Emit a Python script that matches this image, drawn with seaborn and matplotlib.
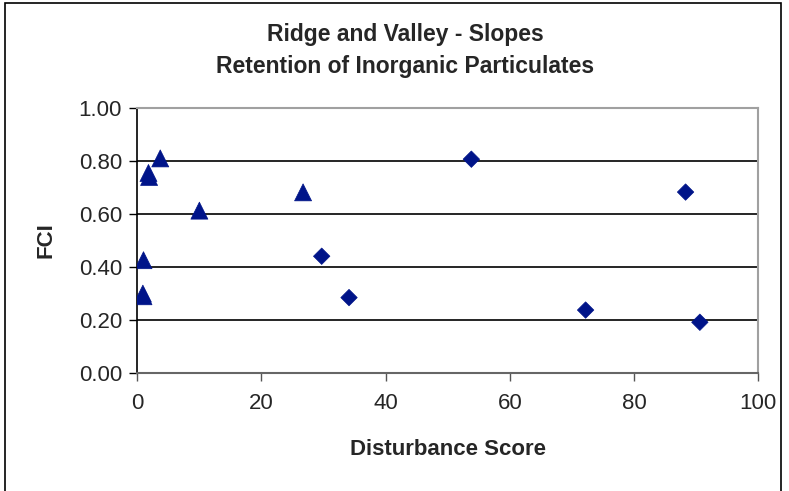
import matplotlib
matplotlib.use("Agg")
import matplotlib.pyplot as plt
import seaborn as sns
import pandas as pd
from matplotlib.patches import Rectangle

# Data
tri_x = [3.7, 1.8, 1.9, 10.0, 26.7, 1.0, 0.9, 1.0]
tri_y = [0.81, 0.755, 0.74, 0.613, 0.682, 0.426, 0.30, 0.29]
dia_x = [29.7, 34.1, 53.8, 88.3, 72.2, 90.6]
dia_y = [0.441, 0.285, 0.807, 0.683, 0.238, 0.192]

title = "Ridge and Valley - Slopes\nRetention of Inorganic Particulates"
xlabel = "Disturbance Score"
ylabel = "FCI"
xticks = [0, 20, 40, 60, 80, 100]
yticks = [0.0, 0.2, 0.4, 0.6, 0.8, 1.0]

df = pd.DataFrame({
    "x": tri_x + dia_x,
    "y": tri_y + dia_y,
    "series": ["tri"] * len(tri_x) + ["dia"] * len(dia_x),
})

sns.set_theme(style="white")
plt.rcParams['font.family'] = ['Liberation Sans', 'DejaVu Sans']

fig = plt.figure(figsize=(7.89, 4.91), dpi=100)
ax = fig.add_axes([0.174, 0.240, 0.787, 0.540])

color = "#001489"
sns.scatterplot(data=df, x="x", y="y", style="series", size="series",
                markers={"tri": "^", "dia": "D"},
                sizes={"tri": 150, "dia": 70},
                color=color, edgecolor=color, linewidth=0.5,
                ax=ax, legend=False, zorder=3)

ax.set_xlim(0, 100)
ax.set_ylim(0, 1.0)
ax.set_xticks(xticks)
ax.set_yticks(yticks)
ax.set_xticklabels([str(t) for t in xticks], fontsize=16)
ax.set_yticklabels([f"{t:.2f}" for t in yticks], fontsize=16)

for yv in yticks[1:-1]:
    ax.axhline(yv, color="black", lw=1.2, zorder=1)

ax.tick_params(axis="both", direction="out", length=6, width=1, color="black",
               pad=5, left=True, bottom=True)
ax.tick_params(axis="x", color="#555555", pad=8)

for side in ["top", "right"]:
    ax.spines[side].set_color("#A0A0A0")
    ax.spines[side].set_linewidth(1.5)
ax.spines["left"].set_color("black")
ax.spines["left"].set_linewidth(1.2)
ax.spines["bottom"].set_color("#666666")
ax.spines["bottom"].set_linewidth(1.5)

ax.set_xlabel(xlabel, fontsize=16, fontweight="bold", labelpad=18)
ax.set_ylabel(ylabel, fontsize=16, fontweight="bold", labelpad=16)
ax.set_title(title, fontsize=16.5, fontweight="bold", pad=25, linespacing=1.5,
             x=0.431)

# figure frame
fig.patches.append(Rectangle((5 / 789, -0.01), (781 - 5) / 789, 1 - 3 / 491 + 0.01,
                             transform=fig.transFigure, fill=False,
                             edgecolor="black", linewidth=1.2))

fig.savefig("out.png", dpi=100)
